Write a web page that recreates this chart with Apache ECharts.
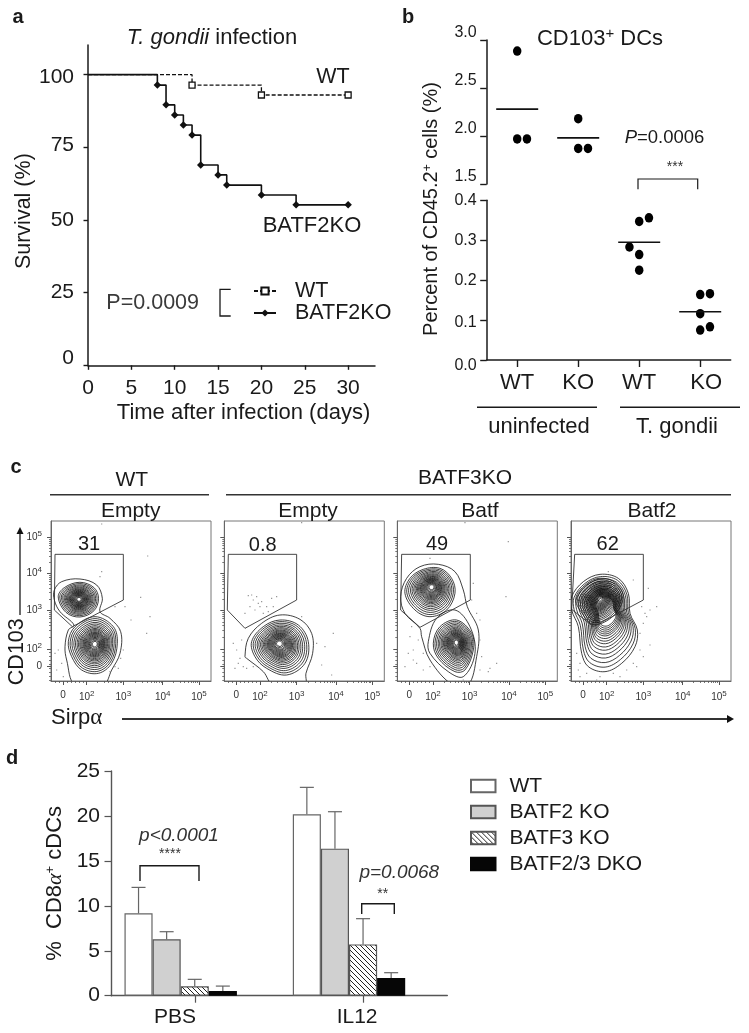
<!DOCTYPE html>
<html><head><meta charset="utf-8">
<script src="https://cdn.jsdelivr.net/npm/echarts@6/dist/echarts.min.js"></script>
<style>html,body{margin:0;padding:0;background:#fff}#main{width:749px;height:1033px}</style>
</head><body><div id="main"></div>
<script>
const FONT = '"Liberation Sans", Arial, sans-serif';
const INK = '#1a1a1a';

// Panel a: survival curves
const survivalDays = [0, 5, 10, 15, 20, 25, 30];
const survivalTicks = [0, 25, 50, 75, 100];
const wtSurvival = [[0, 100], [12, 96.4], [20, 93.0], [30, 93.0]];
const koSurvival = [[0, 100], [8, 96.4], [9, 89.6], [10, 86.1], [11, 82.7], [12, 79.2], [13, 68.9], [15, 65.5], [16, 62.0], [20, 58.6], [24, 55.2], [30, 55.2]];

// Panel b: [group position, percent]
const groupLabels = ['WT', 'KO', 'WT', 'KO'];
const groupPositions = [1, 2, 3, 4];
const upperPoints = [[1, 2.885], [1, 1.97], [1.16, 1.97], [2, 2.18], [2, 1.87], [2.16, 1.87]];
const upperMeans = [[1, 2.28], [2, 1.98]];
const lowerPoints = [[3, 0.347], [3.16, 0.356], [2.84, 0.283], [3, 0.264], [3, 0.225], [4, 0.164], [4.16, 0.166], [4, 0.116], [4, 0.075], [4.16, 0.083]];
const lowerMeans = [[3, 0.295], [4, 0.121]];

// Panel c: flow plots, channels
const flowOrigins = [153, 673, 52, 573];
const flowXTickOffsets = [36, 107, 217, 335, 444];
const flowXLabels = ['0', '10^2', '10^3', '10^4', '10^5'];
const flowYTicks = [648, 598, 480, 370, 262];
const flowYLabels = ['0', '10^2', '10^3', '10^4', '10^5'];
const ringScales = [1, .93, .86, .79, .73, .67, .62, .57, .53, .49, .45, .42, .39, .36, .33, .3, .27, .24, .21, .18, .14, .1];
const gates = [
  [[165,313],[370,313],[370,450],[217,530],[163,480],[165,313]],
  [[685,313],[890,313],[890,450],[735,535],[682,480],[685,313]],
  [[65,313],[271,313],[271,450],[120,532],[62,480],[65,313]],
  [[584,313],[790,313],[790,450],[640,530],[575,478],[584,313]]
];
// each contour: centre, outline, ring range used
const contours = [
  [
    {c:[237,448], pts:[[163,420],[185,395],[240,387],[290,405],[307,445],[300,485],[330,505],[362,545],[360,610],[335,660],[310,705],[225,705],[200,630],[195,590],[205,540],[222,525],[180,485],[163,450]], from:0, to:1},
    {c:[237,448], pts:[[170,440],[190,410],[240,393],[285,410],[300,445],[285,485],[240,505],[195,490]], from:1, to:22},
    {c:[285,582], pts:[[205,575],[225,530],[285,500],[340,530],[352,580],[335,640],[295,670],[245,660],[215,620]], from:0, to:22}
  ],
  [
    {c:[838,580], pts:[[735,620],[745,565],[785,520],[840,495],[900,508],[935,550],[938,610],[918,670],[915,705],[820,705],[790,665],[740,625]], from:0, to:1},
    {c:[838,580], pts:[[755,575],[790,530],[840,510],[895,525],[925,575],[915,640],[860,675],[800,655],[765,620]], from:0, to:22}
  ],
  [
    {c:[155,410], pts:[[62,440],[80,385],[120,350],[175,343],[225,365],[250,420],[262,470],[295,540],[290,620],[265,705],[218,705],[150,630],[125,560],[120,535],[75,490]], from:0, to:1},
    {c:[200,560], pts:[[145,575],[170,505],[225,480],[270,530],[285,610],[250,680],[205,665],[150,610]], from:0, to:1},
    {c:[155,410], pts:[[75,430],[90,385],[130,358],[180,355],[215,385],[225,430],[200,480],[150,500],[105,480]], from:0, to:22},
    {c:[230,577], pts:[[160,580],[180,530],[230,510],[275,550],[280,600],[255,660],[225,665],[175,625]], from:0, to:22}
  ],
  [
    {c:[680,470], pts:[[575,440],[610,395],[660,373],[715,385],[745,430],[750,490],[772,540],[765,590],[725,640],[675,665],[625,650],[605,610],[595,530],[575,480]], from:0, to:16},
    {c:[660,445], pts:[[582,445],[615,400],[660,380],[710,395],[735,440],[705,500],[640,530],[600,490]], from:1, to:22}
  ]
];
const flowDust = [
  [[443,318],[422,442],[450,500],[393,510],[440,550],[305,365],[375,470],[362,625],[175,600],[185,640],[355,655],[330,665],[190,680],[165,610],[300,380],[345,470],[360,540],[200,430],[305,222],[370,600],[345,650],[170,660]],
  [[745,437],[760,450],[770,440],[735,490],[750,470],[765,480],[775,460],[785,455],[815,445],[830,440],[800,470],[820,470],[805,485],[790,490],[700,580],[710,600],[720,625],[715,640],[730,650],[705,655],[740,655],[760,650],[725,570],[965,645],[1000,550],[975,590],[995,675],[950,580],[905,500],[905,218],[755,435],[780,470]],
  [[385,275],[378,440],[350,640],[325,665],[300,510],[290,490],[280,400],[275,450],[100,600],[90,560],[110,640],[130,660],[100,630],[150,650],[300,570],[305,620],[250,690],[95,530],[85,610],[75,650],[150,325],[330,655],[300,660],[115,570],[130,610],[255,218]],
  [[805,415],[830,470],[810,585],[790,520],[800,500],[780,550],[785,470],[760,390],[590,610],[600,640],[600,680],[620,670],[660,680],[700,670],[740,660],[760,640],[780,600],[790,620],[770,650],[685,365],[810,480],[795,490],[720,680],[650,690],[595,660]]
];

// Panel d: bars and upper error limits, [PBS, IL12]
const treatments = ['PBS', 'IL12'];
const dTickPositions = [1.085, 2.085];
const dLabelPositions = [0.966, 2.048];
const dTicks = [0, 5, 10, 15, 20, 25];
const wtBars = [9.16, 20.18], wtErr = [12.05, 23.18];
const batf2Bars = [6.27, 16.36], batf2Err = [7.12, 20.47];
const batf3Bars = [1.04, 5.71], batf3Err = [1.82, 8.57];
const dkoBars = [0.52, 1.97], dkoErr = [1.07, 2.56];

// ---- helpers
const hatch = document.createElement('canvas'); hatch.width = hatch.height = 5;
(function () { const g = hatch.getContext('2d'); g.fillStyle = '#fff'; g.fillRect(0, 0, 5, 5); g.strokeStyle = '#222'; g.lineWidth = 1;
  g.beginPath(); g.moveTo(-1, -1); g.lineTo(6, 6); g.moveTo(-1, 4); g.lineTo(1, 6); g.moveTo(4, -1); g.lineTo(6, 1); g.stroke(); })();

function T(text, x, y, size, o) {
  o = o || {};
  return { type: 'text', z: 20, x, y, rotation: o.rot || 0, silent: true,
    style: { text, fontFamily: FONT, fontSize: size, fill: o.fill || INK, align: o.align || 'center', verticalAlign: 'middle', fontStyle: o.italic ? 'italic' : 'normal', fontWeight: o.bold ? 'bold' : 'normal', rich: o.rich } };
}
function L(points, o) {
  o = o || {};
  return { type: 'polyline', z: 20, silent: true, shape: { points }, style: { stroke: o.color || INK, lineWidth: o.w || 1.4, fill: null } };
}
function arrowHead(p) { return { type: 'polygon', z: 20, silent: true, shape: { points: p }, style: { fill: '#111' } }; }
const firstHidden = d => d.map((v, i) => i === 0 ? { value: v, symbol: 'none' } : v);

const axisLine = (c, w) => ({ show: true, onZero: false, lineStyle: { color: c || INK, width: w || 1.5 } });
const flowGridLeft = [51, 224.3, 397.3, 571];
const flowGridW = 160, flowGridTop = 521;
const aLabel = { fontSize: 21, color: INK, fontFamily: FONT };

const grids = [
  { left: 88, top: 45, width: 287, height: 320.3 },
  { left: 486.7, top: 40, width: 244, height: 144 },
  { left: 486.7, top: 200.3, width: 244, height: 159.7 }
];
const xAxes = [
  { gridIndex: 0, type: 'value', min: 0, max: 33.1, position: 'bottom', axisLine: axisLine(), splitLine: { show: false },
    axisTick: { show: true, length: 4.5, lineStyle: { color: INK, width: 1.4 }, customValues: survivalDays },
    axisLabel: { customValues: survivalDays, margin: 12, fontSize: 21, color: INK, fontFamily: FONT } },
  { gridIndex: 1, type: 'value', min: 0.5, max: 4.5, show: false, splitLine: { show: false } },
  { gridIndex: 2, type: 'value', min: 0.5, max: 4.5, position: 'bottom', axisLine: axisLine(), splitLine: { show: false },
    axisTick: { show: true, customValues: groupPositions, length: 7, lineStyle: { color: INK, width: 1.4 } },
    axisLabel: { customValues: groupPositions, margin: 12, fontSize: 22, color: INK, fontFamily: FONT,
      formatter: v => v === 4 ? '{k|KO}' : groupLabels[v - 1],
      rich: { k: { fontSize: 22, fontFamily: FONT, color: INK, padding: [0, 0, 2, 12] } } } }
];
const yAxes = [
  { gridIndex: 0, type: 'value', min: 0, max: 110.2, axisLine: axisLine(), splitLine: { show: false },
    axisTick: { show: true, length: 4.5, lineStyle: { color: INK, width: 1.4 }, customValues: survivalTicks },
    axisLabel: { customValues: survivalTicks, margin: 14, fontSize: 21, color: INK, fontFamily: FONT,
      formatter: v => v === 0 ? '{z|0}' : v === 100 ? '{h|100}' : v === 75 ? '{t|75}' : String(v),
      rich: { z: Object.assign({ padding: [0, 0, 14, 0] }, aLabel), h: Object.assign({ padding: [5, 0, 0, 0] }, aLabel), t: Object.assign({ padding: [0, 0, 4, 0] }, aLabel) } },
    name: 'Survival (%)', nameLocation: 'middle', nameGap: 47, nameTextStyle: { fontSize: 21.5, color: INK, fontFamily: FONT, padding: [0, 12, 0, 0] } },
  { gridIndex: 1, type: 'value', min: 1.5, max: 3, interval: 0.5, axisLine: axisLine(), splitLine: { show: false },
    axisTick: { show: true, length: 6.5, lineStyle: { color: INK, width: 1.4 } },
    axisLabel: { margin: 10, fontSize: 16, color: INK, fontFamily: FONT, verticalAlign: 'bottom', lineHeight: 14, formatter: v => v.toFixed(1) } },
  { gridIndex: 2, type: 'value', min: 0, max: 0.4, interval: 0.1, axisLine: axisLine(), splitLine: { show: false },
    axisTick: { show: true, length: 6.5, lineStyle: { color: INK, width: 1.4 } },
    axisLabel: { margin: 10, fontSize: 16, color: INK, fontFamily: FONT, formatter: v => '{' + (v === 0 ? 'l' : v < 0.15 ? 'm' : 'n') + '|' + v.toFixed(1) + '}',
      rich: { l: { fontSize: 16, fontFamily: FONT, color: INK, padding: [12, 0, 0, 0] }, m: { fontSize: 16, fontFamily: FONT, color: INK, padding: [6, 0, 0, 0] }, n: { fontSize: 16, fontFamily: FONT, color: INK } } } }
];
const series = [
  { name: 'WT', type: 'line', xAxisIndex: 0, yAxisIndex: 0, step: 'end', data: firstHidden(wtSurvival), symbol: 'rect', symbolSize: 6, showAllSymbol: true,
    lineStyle: { color: '#111', width: 1.3, type: [4, 2] }, itemStyle: { color: '#fff', borderColor: '#111', borderWidth: 1.3 }, z: 3 },
  { name: 'BATF2KO', type: 'line', xAxisIndex: 0, yAxisIndex: 0, step: 'end', data: firstHidden(koSurvival), symbol: 'diamond', symbolSize: 7.5, showAllSymbol: true,
    lineStyle: { color: '#111', width: 1.6 }, itemStyle: { color: '#111' }, z: 4 },
  { type: 'scatter', xAxisIndex: 1, yAxisIndex: 1, data: upperPoints, symbol: 'circle', symbolSize: [8.5, 9.5], itemStyle: { color: '#000', opacity: 1 } },
  { type: 'scatter', xAxisIndex: 1, yAxisIndex: 1, data: upperMeans, symbol: 'rect', symbolSize: [42, 1.6], itemStyle: { color: '#111', opacity: 1 } },
  { type: 'scatter', xAxisIndex: 2, yAxisIndex: 2, data: lowerPoints, symbol: 'circle', symbolSize: [8.5, 9.5], itemStyle: { color: '#000', opacity: 1 } },
  { type: 'scatter', xAxisIndex: 2, yAxisIndex: 2, data: lowerMeans, symbol: 'rect', symbolSize: [42, 1.6], itemStyle: { color: '#111', opacity: 1 } }
];

const supLabel = s => { const m = s.split('^'); return m.length > 1 ? '{b|' + m[0] + '}{s|' + m[1] + '}' : '{b|' + s + '}'; };
const supRich = { b: { fontSize: 10, fontFamily: FONT, color: '#333' }, s: { fontSize: 8, fontFamily: FONT, color: '#333', padding: [0, 0, 7, 0] } };
// tick marks between the labelled decades
const decadeMinor = (a, b) => [2, 3, 4, 5, 6, 7, 8, 9].map(k => a + (b - a) * Math.log10(k));

flowOrigins.forEach((x0, p) => {
  const g = grids.length;
  grids.push({ left: flowGridLeft[p], top: flowGridTop, width: flowGridW, height: 160, show: true, borderColor: '#777', borderWidth: 1, backgroundColor: 'transparent' });
  const xMajor = flowXTickOffsets.map(o => o + x0);
  const xMinor = [];
  for (let i = 1; i < 4; i++) xMinor.push(...decadeMinor(xMajor[i], xMajor[i + 1]));
  for (let v = xMajor[0] - 24; v < xMajor[1]; v += 12) xMinor.push(v);
  const yMinor = [];
  for (let i = 1; i < 4; i++) yMinor.push(...decadeMinor(flowYTicks[i], flowYTicks[i + 1]));
  for (let v = 690; v > 600; v -= 12) yMinor.push(v);
  const xi = xAxes.length, yi = yAxes.length;
  xAxes.push(
    { gridIndex: g, type: 'value', min: x0, max: x0 + 480, position: 'bottom', splitLine: { show: false }, axisLine: axisLine('#666', 1),
      axisTick: { show: true, customValues: xMajor, length: 4, lineStyle: { color: '#555', width: 1 } },
      axisLabel: { customValues: xMajor, margin: 9, color: '#333', fontFamily: FONT, fontSize: 10, rich: supRich, formatter: v => supLabel(flowXLabels[flowXTickOffsets.indexOf(Math.round(v - x0))]) } },
    { gridIndex: g, type: 'value', min: x0, max: x0 + 480, position: 'bottom', splitLine: { show: false }, axisLine: { show: false }, axisLabel: { show: false },
      axisTick: { show: true, customValues: xMinor, length: 2, lineStyle: { color: '#555', width: 0.8 } } });
  yAxes.push(
    { gridIndex: g, type: 'value', inverse: true, min: 213, max: 693, position: 'left', splitLine: { show: false }, axisLine: axisLine('#666', 1),
      axisTick: { show: true, customValues: flowYTicks, length: 4, lineStyle: { color: '#555', width: 1 } },
      axisLabel: p === 0 ? { customValues: flowYTicks, margin: 9, color: '#333', fontFamily: FONT, fontSize: 10, rich: supRich, formatter: v => supLabel(flowYLabels[flowYTicks.indexOf(v)]) } : { show: false } },
    { gridIndex: g, type: 'value', inverse: true, min: 213, max: 693, position: 'left', splitLine: { show: false }, axisLine: { show: false }, axisLabel: { show: false },
      axisTick: { show: true, customValues: yMinor, length: 2, lineStyle: { color: '#555', width: 0.8 } } });
  series.push(
    { type: 'scatter', xAxisIndex: xi, yAxisIndex: yi, data: flowDust[p], symbol: 'rect', symbolSize: 1.2, itemStyle: { color: '#888', opacity: 0.9 }, silent: true },
    { type: 'custom', xAxisIndex: xi, yAxisIndex: yi, clip: true, silent: true, data: contours[p].map(k => k.c),
      renderItem(params, api) {
        const k = contours[p][params.dataIndex];
        return { type: 'group', children: ringScales.slice(k.from, k.to).map(s => ({ type: 'polygon',
          shape: { points: k.pts.map(q => api.coord([k.c[0] + (q[0] - k.c[0]) * s, k.c[1] + (q[1] - k.c[1]) * s])), smooth: 0.36 },
          style: { fill: 'none', stroke: '#111', lineWidth: 0.8 } })) };
      } },
    { type: 'line', xAxisIndex: xi, yAxisIndex: yi, data: gates[p], symbol: 'none', lineStyle: { color: '#333', width: 0.9 }, silent: true, z: 5 }
  );
});

// Panel d
const dg = grids.length, dx = xAxes.length, dy = yAxes.length;
grids.push({ left: 111, top: 771, width: 336.3, height: 224.7 });
xAxes.push({ gridIndex: dg, type: 'value', min: 0.586, max: 2.584, position: 'bottom', splitLine: { show: false }, axisLine: axisLine('#555', 1.4),
  axisTick: { show: true, customValues: dTickPositions, length: 7, lineStyle: { color: '#555', width: 1.2 } },
  axisLabel: { customValues: dLabelPositions, margin: 11, fontSize: 21, color: INK, fontFamily: FONT, formatter: v => treatments[dLabelPositions.indexOf(v)] } });
yAxes.push({ gridIndex: dg, type: 'value', min: 0, max: 25, interval: 5, splitLine: { show: false }, axisLine: axisLine('#555', 1.4),
  axisTick: { show: true, length: 6.5, lineStyle: { color: '#555', width: 1.2 } },
  axisLabel: { margin: 11, fontSize: 21, color: INK, fontFamily: FONT, customValues: dTicks },
  name: '{a|%  CD8}{g|α}{s|+}{a| cDCs}', nameLocation: 'middle', nameGap: 45,
  nameTextStyle: { rich: { a: { fontSize: 22, fontFamily: FONT, color: INK }, g: { fontSize: 22, fontFamily: '"Liberation Serif"', fontStyle: 'italic', color: INK }, s: { fontSize: 13, fontFamily: FONT, color: INK, padding: [0, 0, 9, 0] } } } });
const barDefs = [
  ['WT ', wtBars, wtErr, '#fff', '#666'],
  ['BATF2 KO', batf2Bars, batf2Err, '#d0d0d0', '#555'],
  ['BATF3 KO', batf3Bars, batf3Err, { image: hatch, repeat: 'repeat' }, '#555'],
  ['BATF2/3 DKO', dkoBars, dkoErr, '#060606', '#060606']
];
barDefs.forEach(d => series.push({ name: d[0], type: 'bar', xAxisIndex: dx, yAxisIndex: dy, barWidth: 28.1, barGap: '0%',
  data: d[1].map((v, i) => [i + 1, v]), itemStyle: { color: d[3], borderColor: d[4], borderWidth: 1.2 } }));
barDefs.forEach((d, b) => series.push({ type: 'custom', xAxisIndex: dx, yAxisIndex: dy, silent: true, z: 1,
  data: d[2].map((v, i) => [i + 1, v, d[1][i]]),
  renderItem(params, api) {
    const top = api.coord([api.value(0), api.value(1)]), base = api.coord([api.value(0), api.value(2)]);
    const x = top[0] + (b - 1.5) * 28.1;
    const st = { stroke: '#666', lineWidth: 1.2 };
    return { type: 'group', children: [
      { type: 'line', shape: { x1: x, y1: base[1], x2: x, y2: top[1] }, style: st },
      { type: 'line', shape: { x1: x - 7, y1: top[1], x2: x + 7, y2: top[1] }, style: st }] };
  } }));

const rich = {
  i: { fontSize: 22, fontFamily: FONT, fontStyle: 'italic', color: INK },
  r: { fontSize: 22, fontFamily: FONT, color: INK },
  a: { fontSize: 22, fontFamily: FONT, color: INK },
  s: { fontSize: 15, fontFamily: FONT, color: INK, padding: [0, 0, 10, 0] },
  b: { fontSize: 20, fontFamily: FONT, color: INK },
  t: { fontSize: 12, fontFamily: FONT, color: INK, padding: [0, 0, 8, 0] },
  p: { fontSize: 18.5, fontFamily: FONT, fontStyle: 'italic', color: '#333' },
  q: { fontSize: 18.5, fontFamily: FONT, color: '#333' },
  g: { fontSize: 23, fontFamily: '"Liberation Serif"', color: INK }
};
const G = [
  T('a', 18, 17, 20, { bold: true }), T('b', 408, 17, 20, { bold: true }), T('c', 16, 467, 20, { bold: true }), T('d', 12, 758, 20, { bold: true }),
  T('{i|T. gondii} {r|infection}', 212, 38, 22, { rich }),
  T('WT', 333, 77, 21.5), T('BATF2KO', 312, 226, 22),
  T('P=0.0009', 152.7, 302.7, 21.5, { fill: '#3a3a3a' }),
  L([[230.7, 289.3], [220, 289.3], [220, 316], [230.7, 316]], { w: 1.3 }),
  T('Time after infection (days)', 243.5, 413, 22),
  T('{a|CD103}{s|+}{a| DCs}', 600, 39, 22, { rich }),
  T('{b|Percent of CD45.2}{t|+}{b| cells (%)}', 431.7, 209, 20, { rot: Math.PI / 2, rich }),
  T('{p|P}{q|=0.0006}', 664.5, 137.7, 18.5, { rich }),
  L([[638, 189.3], [638, 179], [697.7, 179], [697.7, 189.3]], { w: 1.2 }),
  T('***', 675, 167, 14, { fill: '#333' }),
  L([[477, 407.3], [597, 407.3]], { w: 1.4 }), L([[620, 407.3], [740, 407.3]], { w: 1.4 }),
  T('uninfected', 539, 426.7, 22), T('T. gondii', 677, 426.7, 22),
  T('WT', 131.7, 480, 21), T('BATF3KO', 465, 478, 21),
  L([[50, 494.7], [209, 494.7]], { color: '#333', w: 1.5 }), L([[226, 494.7], [731, 494.7]], { color: '#333', w: 1.5 }),
  T('Empty', 130.7, 511, 21), T('Empty', 308, 511, 21), T('Batf', 480, 511, 21), T('Batf2', 652, 511, 21),
  T('31', 89, 544, 20), T('0.8', 262.7, 545, 20), T('49', 437, 544, 20), T('62', 607.7, 544, 20),
  T('CD103', 17, 651.7, 21.5, { rot: Math.PI / 2 }),
  L([[20, 615], [20, 532]], { w: 1.3 }), arrowHead([[20, 527], [16.5, 534], [23.5, 534]]),
  T('{a|Sirp}{g|α}', 76.7, 718, 22, { rich }),
  L([[122, 719], [728, 719]], { color: '#333', w: 2 }), arrowHead([[734, 719], [727, 715], [727, 723]]),
  T('p<0.0001', 179, 835.7, 19, { italic: true, fill: '#333' }), T('****', 170, 854, 14, { fill: '#333' }),
  L([[140, 881], [140, 865.7], [199, 865.7], [199, 881]], { w: 1.4 }),
  T('p=0.0068', 399.3, 873, 19, { italic: true, fill: '#333' }), T('**', 382.7, 894, 14, { fill: '#333' }),
  L([[361.7, 914], [361.7, 903.7], [394.3, 903.7], [394.3, 914]], { w: 1.4 })
];

echarts.init(document.getElementById('main'), null, { renderer: 'canvas' }).setOption({
  animation: false, backgroundColor: '#fff', textStyle: { fontFamily: FONT },
  grid: grids, xAxis: xAxes, yAxis: yAxes, series, graphic: { elements: G },
  legend: [
    { orient: 'vertical', left: 253, top: 280, padding: 0, itemWidth: 22, itemHeight: 9, itemGap: 0, data: ['WT', 'BATF2KO'], selectedMode: false,
      textStyle: { fontSize: 21.5, color: INK, fontFamily: FONT, padding: [0, 0, 0, 14] } },
    { orient: 'vertical', left: 470, top: 775.5, padding: 0, itemWidth: 24.5, itemHeight: 12.7, itemGap: 5, icon: 'rect', data: barDefs.map(d => d[0]), selectedMode: false,
      textStyle: { fontSize: 21, color: INK, fontFamily: FONT, padding: [0, 0, 0, 9] } }
  ]
});
</script></body></html>
